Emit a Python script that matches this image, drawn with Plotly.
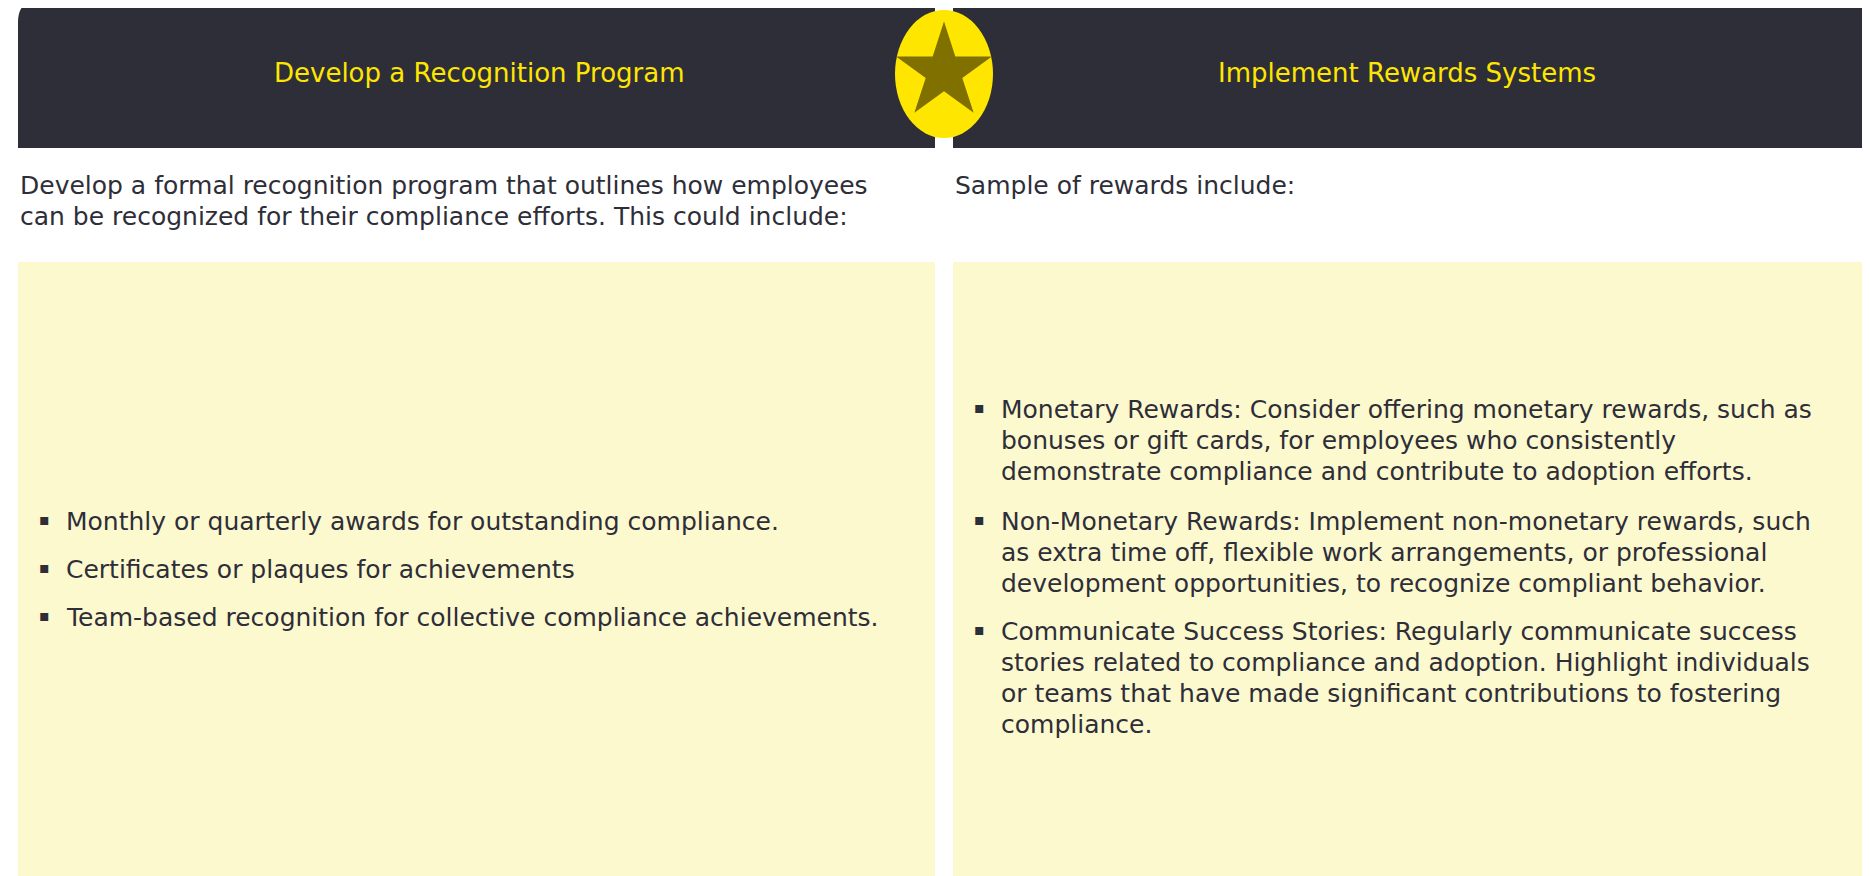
import plotly.graph_objects as go

W, H = 1870, 876
headers = ["Develop a Recognition Program", "Implement Rewards Systems"]
left_intro = ["Develop a formal recognition program that outlines how employees",
              "can be recognized for their compliance efforts. This could include:"]
right_intro = ["Sample of rewards include:"]
left_items = [["Monthly or quarterly awards for outstanding compliance."],
              ["Certificates or plaques for achievements"],
              ["Team-based recognition for collective compliance achievements."]]
right_items = [["Monetary Rewards: Consider offering monetary rewards, such as",
                "bonuses or gift cards, for employees who consistently",
                "demonstrate compliance and contribute to adoption efforts."],
               ["Non-Monetary Rewards: Implement non-monetary rewards, such",
                "as extra time off, flexible work arrangements, or professional",
                "development opportunities, to recognize compliant behavior."],
               ["Communicate Success Stories: Regularly communicate success",
                "stories related to compliance and adoption. Highlight individuals",
                "or teams that have made significant contributions to fostering",
                "compliance."]]

DARK = "#2e2e38"
YEL = "#ffe600"
BOX = "#fdf9cf"
FONT = "DejaVu Sans"
SZ = 25
LH = 31
O = 8  # page offset

fig = go.Figure()
r = 22
shapes = [
    dict(type="path", path=f"M {18-O} {148-O} L {18-O} {r-O} Q {18-O} {-O} {18+r-O} {-O} L {935-O} {-O} L {935-O} {148-O} Z",
         fillcolor=DARK, line_width=0, layer="below"),
    dict(type="path", path=f"M {953-O} {148-O} L {953-O} {-O} L {1870-r-O} {-O} Q {1870-O} {-O} {1870-O} {r-O} L {1870-O} {148-O} Z",
         fillcolor=DARK, line_width=0, layer="below"),
    dict(type="rect", x0=18-O, x1=935-O, y0=262-O, y1=H, fillcolor=BOX, line_width=0, layer="below"),
    dict(type="rect", x0=953-O, x1=1870-O, y0=262-O, y1=H, fillcolor=BOX, line_width=0, layer="below"),
    dict(type="circle", x0=895-O, x1=993-O, y0=10-O, y1=138-O, fillcolor=YEL, line_width=0, layer="below"),
]
fig.update_layout(shapes=shapes)

fig.add_trace(go.Scatter(x=[944-O], y=[72-O], mode="markers", hoverinfo="skip",
                         marker=dict(symbol="star", size=72, color="#7f7000", line_width=0)))

ann = []
for x, t in zip([479, 1407], headers):
    ann.append(dict(x=x-O, y=73-O, text=t, showarrow=False, font=dict(family=FONT, size=26, color=YEL)))

def lines(x, y0, texts):
    for i, t in enumerate(texts):
        ann.append(dict(x=x-O, y=y0 + i*LH - O, text=t, showarrow=False, xanchor="left", yanchor="middle",
                        font=dict(family=FONT, size=SZ, color=DARK)))

lines(18, 185, left_intro)
lines(953, 185, right_intro)

def bullets(items, starts, bx, tx):
    for y, t in zip(starts, items):
        ann.append(dict(x=bx-O, y=y-2-O, text="▪", showarrow=False, xanchor="left", yanchor="middle",
                        font=dict(family=FONT, size=16, color=DARK)))
        lines(tx, y, t)

bullets(left_items, [521, 569, 617], 37, 64)
bullets(right_items, [409, 521, 631], 972, 999)
fig.update_layout(annotations=ann)

fig.update_xaxes(range=[0, W], visible=False)
fig.update_yaxes(range=[H, 0], visible=False)
fig.update_layout(width=W, height=H, margin=dict(l=0, r=0, t=0, b=0),
                  paper_bgcolor="white", plot_bgcolor="white", showlegend=False)
fig.write_html("out.html")
